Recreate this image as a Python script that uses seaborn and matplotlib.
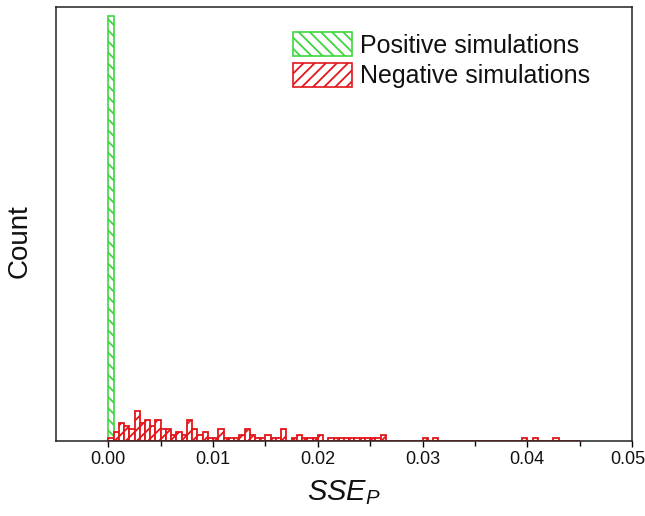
import numpy as np
import pandas as pd
import matplotlib
matplotlib.use("Agg")
import matplotlib.pyplot as plt
import matplotlib.transforms as mtransforms
import seaborn as sns
from matplotlib.patches import Patch

# ---- data (counts per SSE_P bin of width 0.0005, starting at 0) ----
bin_width = 0.0005
pos_counts = [140]
neg_counts = [1, 3, 6, 5, 4, 10, 6, 7, 5, 7,
              4, 4, 2, 3, 2, 7, 4, 2, 3, 1,
              1, 4, 1, 1, 1, 2, 4, 2, 1, 1,
              2, 1, 1, 4, 0, 1, 2, 1, 1, 1,
              2, 0, 1, 1, 1, 1, 1, 1, 1, 1,
              1, 1, 2, 0, 0, 0, 0, 0, 0, 0,
              1, 0, 1, 0, 0, 0, 0, 0, 0, 0,
              0, 0, 0, 0, 0, 0, 0, 0, 0, 1,
              0, 1, 0, 0, 0, 1, 0, 0, 0, 0]
labels = ["Positive simulations", "Negative simulations"]
xticks = [0.00, 0.01, 0.02, 0.03, 0.04, 0.05]

green = "#3fd63f"
red = "#e3161b"

sns.set_theme(style="white")
plt.rcParams["font.family"] = ["Liberation Sans", "DejaVu Sans"]
plt.rcParams["mathtext.fontset"] = "custom"
plt.rcParams["mathtext.it"] = "Liberation Sans:italic"
plt.rcParams["mathtext.rm"] = "Liberation Sans"
plt.rcParams["hatch.linewidth"] = 1.3

pos_df = pd.DataFrame({"x": (np.arange(len(pos_counts)) + 0.5) * bin_width,
                       "w": pos_counts})
neg_df = pd.DataFrame({"x": (np.arange(len(neg_counts)) + 0.5) * bin_width,
                       "w": neg_counts})

fig = plt.figure(figsize=(6.45, 5.16), dpi=100)
ax = fig.add_axes([56/645, 1-441/516, (632-56)/645, (441-7)/516])

sns.histplot(data=pos_df, x="x", weights="w", binwidth=bin_width,
             binrange=(0, bin_width*len(pos_counts)), ax=ax,
             facecolor="white", edgecolor=green, hatch="\\\\\\", linewidth=1.2)
sns.histplot(data=neg_df, x="x", weights="w", binwidth=bin_width,
             binrange=(0, bin_width*len(neg_counts)), ax=ax,
             facecolor="white", edgecolor=red, hatch="///", linewidth=1.3)

ax.set_xlim(-0.005, 0.05)
ax.set_ylim(0, 143)
ax.set_yticks([])
ax.set_xticks(xticks)
ax.set_xticklabels([f"{t:.2f}" for t in xticks], fontsize=13)
ax.set_xticks(np.arange(0.005, 0.05, 0.01), minor=True)
ax.tick_params(axis="x", which="major", direction="out", length=4.5, width=1,
               color="black", bottom=True, pad=3, labelcolor="#111111")
ax.tick_params(axis="x", which="minor", direction="out", length=3.5, width=1,
               color="black", bottom=True)
# nudge the last tick label so it stays inside the figure
last = ax.get_xticklabels()[-1]
last.set_transform(last.get_transform() +
                   mtransforms.ScaledTranslation(-4/100, 0, fig.dpi_scale_trans))
for s in ax.spines.values():
    s.set_visible(True)
    s.set_color("#222222")
    s.set_linewidth(1.1)

ax.set_xlabel(r"$\mathit{SSE}_{\mathit{P}}$", fontsize=21, color="#111111")
ax.xaxis.set_label_coords(0.5, -0.086)
ax.set_ylabel("Count", fontsize=20, color="#111111")
ax.yaxis.set_label_coords(-0.04, 0.46)

handles = [Patch(facecolor="white", edgecolor=green, hatch="\\\\\\", linewidth=1.2),
           Patch(facecolor="white", edgecolor=red, hatch="///", linewidth=1.2)]
ax.legend(handles, labels, loc="upper left",
          bbox_to_anchor=(293/645, 1-32/516), bbox_transform=fig.transFigure,
          frameon=False, fontsize=18, handlelength=2.36, handleheight=1.12,
          handletextpad=0.3, labelspacing=0.2, borderpad=0, borderaxespad=0,
          labelcolor="#111111")

fig.savefig("out.png", dpi=100)
